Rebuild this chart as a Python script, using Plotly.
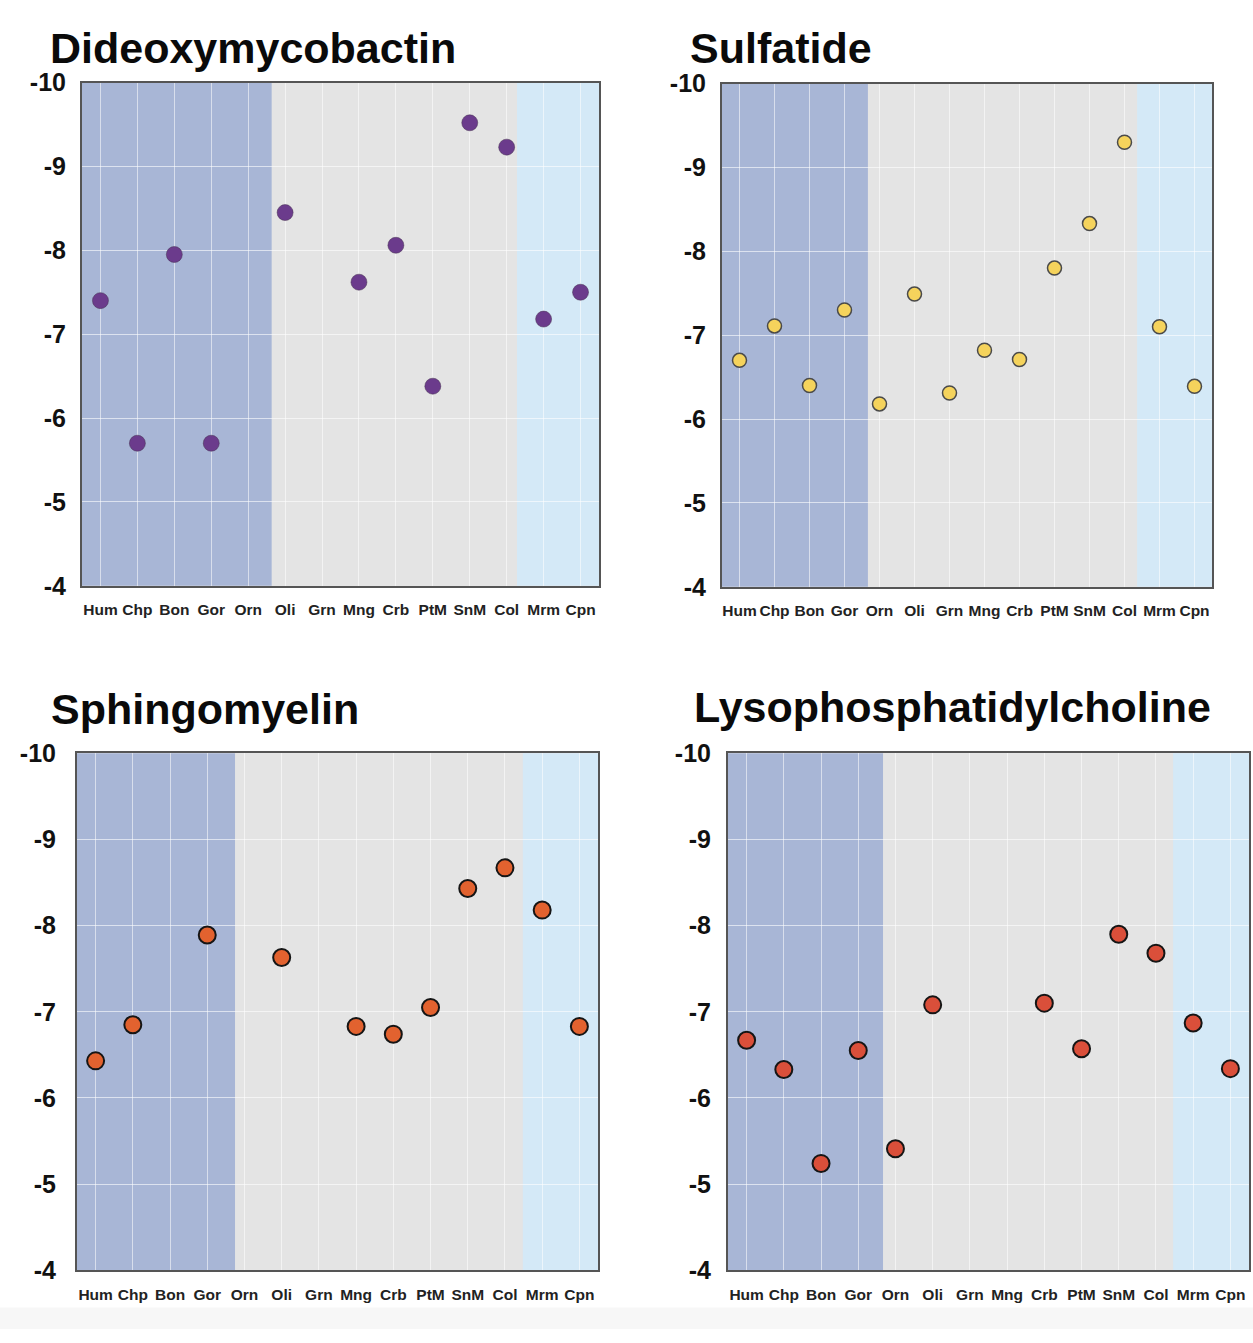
import plotly.graph_objects as go

CATEGORIES = ["Hum", "Chp", "Bon", "Gor", "Orn", "Oli", "Grn", "Mng", "Crb", "PtM", "SnM", "Col", "Mrm", "Cpn"]
Y_TICK_VALUES = [-10, -9, -8, -7, -6, -5, -4]
Y_TICK_LABELS = ["-10", "-9", "-8", "-7", "-6", "-5", "-4"]

TITLES = ["Dideoxymycobactin", "Sulfatide", "Sphingomyelin", "Lysophosphatidylcholine"]

DIDEOXYMYCOBACTIN = [-7.4, -5.7, -7.95, -5.7, None, -8.45, None, -7.62, -8.06, -6.38, -9.52, -9.23, -7.18, -7.5]
SULFATIDE = [-6.7, -7.11, -6.4, -7.3, -6.18, -7.49, -6.31, -6.82, -6.71, -7.8, -8.33, -9.3, -7.1, -6.39]
SPHINGOMYELIN = [-6.43, -6.85, None, -7.89, None, -7.63, None, -6.83, -6.74, -7.05, -8.43, -8.67, -8.18, -6.83]
LYSOPHOSPHATIDYLCHOLINE = [-6.67, -6.33, -5.24, -6.55, -5.41, -7.08, None, None, -7.1, -6.57, -7.9, -7.68, -6.87, -6.34]

SERIES = [DIDEOXYMYCOBACTIN, SULFATIDE, SPHINGOMYELIN, LYSOPHOSPHATIDYLCHOLINE]

W, H = 1253, 1343
# plot boxes in pixels: (left, right, top, bottom)
BOXES = [(82, 599, 70, 584), (722, 1212, 71, 585), (77, 598, 755, 1283), (728, 1249, 755, 1283)]
TITLE_POS = [(48, 35), (688, 35), (49, 710), (692, 708)]
STANDOFF = [9, 9, 14, 10]
# region boundaries in category-index units: (blue end, light blue start)
REGIONS = [(4.64, 11.28), (3.67, 11.36), (3.75, 11.48), (3.67, 11.46)]
MARKERS = [
    dict(color="#6b3b8c", size=16, line=dict(color="rgba(70,50,80,0.5)", width=1)),
    dict(color="#f5d35c", size=14, line=dict(color="#4a4a4a", width=1.5)),
    dict(color="#e2622f", size=17, line=dict(color="#151515", width=2)),
    dict(color="#da4f3a", size=17, line=dict(color="#151515", width=2)),
]

BLUE = "#a8b6d6"
GRAY = "#e4e4e4"
LIGHT = "#d4e9f7"
FONT = "Liberation Sans, Arial, Helvetica, sans-serif"

fig = go.Figure()
shapes = []
annotations = []
layout_axes = {}

for i in range(4):
    n = "" if i == 0 else str(i + 1)
    xa, ya = "x" + n, "y" + n
    l, r, t, b = BOXES[i]
    fig.add_trace(go.Scatter(
        x=CATEGORIES, y=SERIES[i], mode="markers", marker=MARKERS[i],
        xaxis=xa, yaxis=ya, showlegend=False, cliponaxis=False,
    ))
    layout_axes["xaxis" + n] = dict(
        domain=[l / W, r / W], anchor=ya, type="category",
        categoryorder="array", categoryarray=CATEGORIES,
        range=[-0.5, 13.5], showgrid=True, gridcolor="rgba(255,255,255,0.55)", gridwidth=1,
        showline=True, mirror=True, linecolor="#555555", linewidth=2,
        ticks="", ticklen=0, ticklabelstandoff=9, tickangle=0,
        tickfont=dict(family=FONT, size=15.5, color="#222222", weight="bold"),
        zeroline=False, fixedrange=True,
    )
    layout_axes["yaxis" + n] = dict(
        domain=[1 - b / H, 1 - t / H], anchor=xa,
        range=[-4, -10], tickmode="array", tickvals=Y_TICK_VALUES, ticktext=Y_TICK_LABELS,
        showgrid=True, gridcolor="rgba(255,255,255,0.6)", gridwidth=1,
        showline=True, mirror=True, linecolor="#555555", linewidth=2,
        ticks="", ticklen=0, ticklabelstandoff=STANDOFF[i],
        tickfont=dict(family=FONT, size=25, color="#111111", weight="bold"),
        zeroline=False, fixedrange=True,
    )
    be, ls = REGIONS[i]
    for x0, x1, c in [(-0.5, be, BLUE), (be, ls, GRAY), (ls, 13.5, LIGHT)]:
        shapes.append(dict(type="rect", xref=xa, yref=ya + " domain", x0=x0, x1=x1, y0=0, y1=1,
                           fillcolor=c, line=dict(width=0), layer="below"))
    tx, ty = TITLE_POS[i]
    annotations.append(dict(
        text=TITLES[i], xref="paper", yref="paper", x=tx / W, y=1 - ty / H,
        xanchor="left", yanchor="middle", showarrow=False,
        font=dict(family=FONT, size=43, color="#0a0a0a", weight="bold"),
    ))

shapes.append(dict(type="rect", xref="paper", yref="paper", x0=0, x1=1, y0=0, y1=22 / H,
                   fillcolor="#f7f7f7", line=dict(width=0), layer="below"))

fig.update_layout(
    width=W, height=H, margin=dict(l=0, r=0, t=0, b=0),
    paper_bgcolor="white", plot_bgcolor=GRAY,
    shapes=shapes, annotations=annotations, **layout_axes,
)

fig.write_html("out.html", config={"displayModeBar": False},
               post_script="document.body.style.margin='0px';")
